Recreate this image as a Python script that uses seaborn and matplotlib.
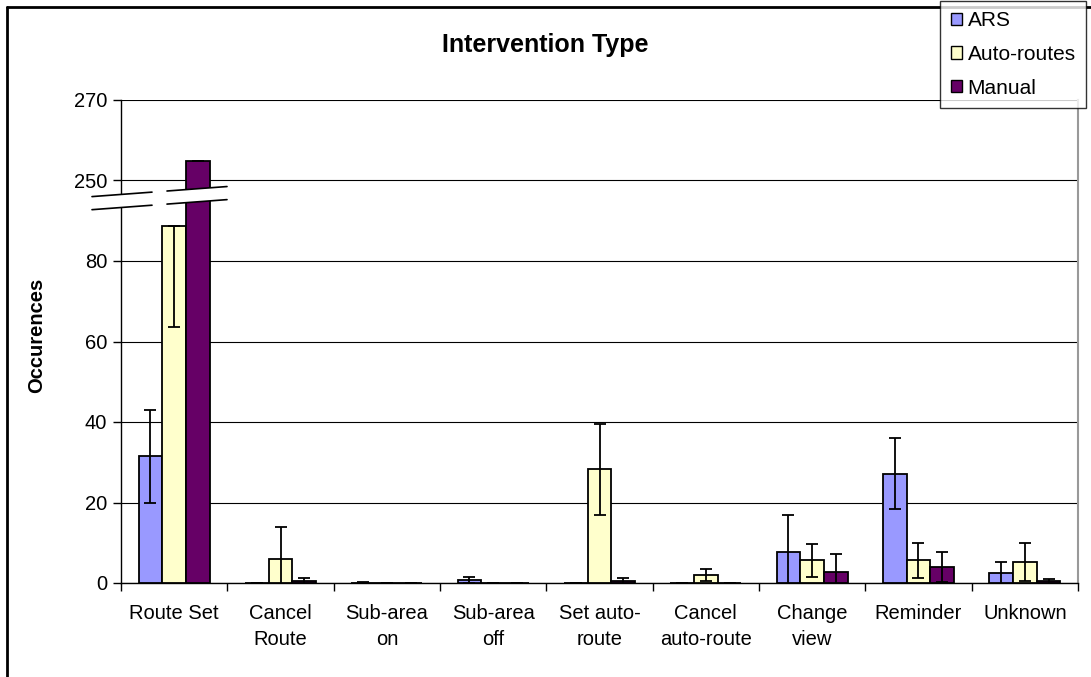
import numpy as np
import pandas as pd
import matplotlib
matplotlib.use('Agg')
import matplotlib.pyplot as plt
import matplotlib.transforms as mtransforms
from matplotlib.lines import Line2D
from matplotlib.patches import Patch, Polygon
import seaborn as sns

categories = ['Route Set', 'Cancel\nRoute', 'Sub-area\non', 'Sub-area\noff', 'Set auto-\nroute',
              'Cancel\nauto-route', 'Change\nview', 'Reminder', 'Unknown']
series = ['ARS', 'Auto-routes', 'Manual']

ars = [31.5, 0, 0, 0.8, 0, 0, 7.7, 27.2, 2.4]
ars_err = [11.5, 0, 0.3, 0.8, 0, 0, 9.3, 8.8, 2.8]
auto = [88.7, 6.0, 0, 0, 28.3, 2.1, 5.6, 5.6, 5.2]
auto_err = [25.2, 7.8, 0, 0, 11.3, 1.5, 4.1, 4.4, 4.8]
manual = [254.8, 0.4, 0, 0, 0.4, 0, 2.8, 4.0, 0.4]
manual_err = [0, 0.8, 0, 0, 0.8, 0, 4.5, 3.7, 0.7]

# broken axis: everything from 250 up is shifted down by 150
break_shift = 150
ytick_labels = ['0', '20', '40', '60', '80', '250', '270']

colors = ['#9999FF', '#FFFFCC', '#660066']


def to_display(v):
    return v - break_shift if v >= 250 else v


df = pd.DataFrame({
    'category': categories * 3,
    'series': np.repeat(series, len(categories)),
    'value': [to_display(v) for v in ars + auto + manual],
})

sns.set_style('white')
plt.rcParams['font.family'] = ['Liberation Sans', 'DejaVu Sans']
plt.rcParams['text.color'] = 'black'
plt.rcParams['xtick.color'] = 'black'
plt.rcParams['ytick.color'] = 'black'

fig = plt.figure(figsize=(10.91, 6.77), dpi=100)
ax = fig.add_axes([121 / 1091, 1 - 583 / 677, (1078 - 121) / 1091, (583 - 100) / 677])

sns.barplot(data=df, x='category', y='value', hue='series', hue_order=series,
            palette=colors, saturation=1, edgecolor='black', linewidth=1.3, width=0.67,
            errorbar=None, legend=False, ax=ax, zorder=3)

# error bars; the Route Set auto-routes bar only shows its lower half
all_vals = [ars, auto, manual]
all_errs = [ars_err, auto_err, manual_err]
for cont, vals, errs in zip(ax.containers, all_vals, all_errs):
    xs = [p.get_x() + p.get_width() / 2 for p in cont]
    ys = [to_display(v) for v in vals]
    lower = list(errs)
    upper = list(errs)
    for i, v in enumerate(vals):
        if to_display(v) + errs[i] > 88 and v < 250:
            upper[i] = 0
    ax.errorbar(xs, ys, yerr=[lower, upper], fmt='none', ecolor='black',
                elinewidth=1.3, capsize=4.5, capthick=1.3, zorder=4)

ax.set_ylim(0, 120)
ax.set_xlim(-0.5, len(categories) - 0.5)
ax.set_yticks(np.arange(0, 121, 20))
ax.set_yticklabels(ytick_labels, fontsize=14.5)
ax.yaxis.grid(True, color='black', linewidth=0.8)
ax.set_axisbelow(True)

ax.set_xticks(np.arange(-0.5, len(categories), 1))
ax.set_xticklabels([])
ax.set_xticks(np.arange(len(categories)), minor=True)
ax.set_xticklabels(categories, minor=True, fontsize=14.5, linespacing=1.45)
ax.tick_params(axis='x', which='minor', length=0, pad=15)
ax.tick_params(axis='x', which='major', length=6, width=1, color='black', direction='out', bottom=True)
ax.tick_params(axis='y', length=6, width=1, color='black', direction='out', left=True, pad=4)
ax.set_xlabel('')
ax.set_ylabel('')

for s in ['left', 'bottom']:
    ax.spines[s].set_color('black')
    ax.spines[s].set_linewidth(1)
ax.spines['top'].set_visible(False)
ax.spines['right'].set_color('#999999')
ax.spines['right'].set_linewidth(1.5)

# break marks across the axis
tr = mtransforms.blended_transform_factory(fig.transFigure, ax.transData)
x0, x1 = 92 / 1091, 227 / 1091
gap = Polygon([[x0, 96], [x1, 98.5], [x1, 95.25], [x0, 92.75]], closed=True,
              facecolor='white', edgecolor='none', transform=tr, clip_on=False, zorder=6)
ax.add_patch(gap)
for xa, xb in [(92, 152), (167, 227)]:
    fa, fb = xa / 1091, xb / 1091
    for ya in [96, 92.75]:
        yb_ = ya + 2.5 * (fb - x0) / (x1 - x0)
        ya_ = ya + 2.5 * (fa - x0) / (x1 - x0)
        ax.add_line(Line2D([fa, fb], [ya_, yb_], color='black', lw=1.2,
                           transform=tr, clip_on=False, zorder=7))

fig.text(0.5, 1 - 45 / 677, 'Intervention Type', ha='center', va='center',
         fontsize=18, fontweight='bold')
fig.text(37 / 1091, 1 - 335 / 677, 'Occurences', rotation=90, ha='center', va='center',
         fontsize=14.5, fontweight='bold')

handles = [Patch(facecolor=c, edgecolor='black', linewidth=1) for c in colors]
leg = fig.legend(handles, series, loc='upper right', bbox_to_anchor=(1086 / 1091, 1 - 1 / 677),
                 frameon=True, fancybox=False, edgecolor='black', fontsize=15,
                 handlelength=0.55, handleheight=0.55, handletextpad=0.25,
                 labelspacing=0.7, borderpad=0.5, borderaxespad=0)
leg.get_frame().set_linewidth(1)

# outer chart border (only top and left are visible)
fig.add_artist(Line2D([7 / 1091, 7 / 1091], [0, 1 - 7 / 677], color='black', lw=2,
                      transform=fig.transFigure, zorder=0))
fig.add_artist(Line2D([7 / 1091, 1], [1 - 7 / 677, 1 - 7 / 677], color='black', lw=2,
                      transform=fig.transFigure, zorder=0))

fig.savefig('out.png', dpi=100, facecolor='white')
